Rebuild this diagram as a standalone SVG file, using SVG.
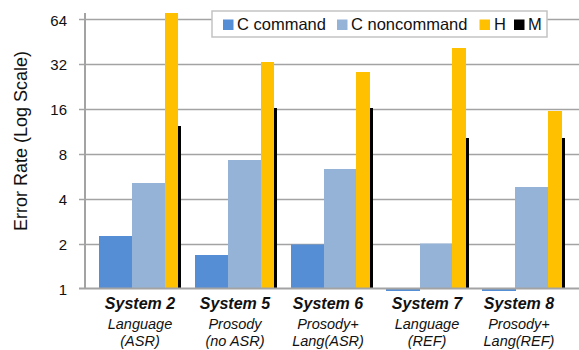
<svg xmlns="http://www.w3.org/2000/svg" width="579" height="350" viewBox="0 0 579 350">
<style>
.grid{stroke:#a3a3a3;stroke-width:1.6;fill:none}
.axis{stroke:#a3a3a3;stroke-width:2;fill:none}
.tick{font-family:"Liberation Sans",Arial,sans-serif;font-size:15px;fill:#111;text-anchor:end}
.ytitle{font-family:"Liberation Sans",Arial,sans-serif;font-size:18px;fill:#111;text-anchor:middle}
.leg{font-family:"Liberation Sans",Arial,sans-serif;font-size:16.5px;fill:#111}
.cat{font-family:"Liberation Sans",Arial,sans-serif;font-size:16px;font-weight:bold;font-style:italic;fill:#111;text-anchor:middle}
.sub{font-family:"Liberation Sans",Arial,sans-serif;font-size:14.5px;font-style:italic;fill:#111;text-anchor:middle}
.cc{fill:#558ed5}
.cn{fill:#95b3d7}
.h{fill:#ffc000}
.m{fill:#000}
</style>
<rect width="579" height="350" fill="#fff"/>
<g id="gridlines">
<line class="grid" x1="79" y1="19.5" x2="579" y2="19.5"/>
<line class="grid" x1="79" y1="64.5" x2="579" y2="64.5"/>
<line class="grid" x1="79" y1="109.5" x2="579" y2="109.5"/>
<line class="grid" x1="79" y1="154.5" x2="579" y2="154.5"/>
<line class="grid" x1="79" y1="199.5" x2="579" y2="199.5"/>
<line class="grid" x1="79" y1="244.5" x2="579" y2="244.5"/>
</g>
<g id="ticklabels">
<text class="tick" x="67" y="25.5">64</text>
<text class="tick" x="67" y="70">32</text>
<text class="tick" x="67" y="115">16</text>
<text class="tick" x="67" y="159.5">8</text>
<text class="tick" x="67" y="204.5">4</text>
<text class="tick" x="67" y="249.5">2</text>
<text class="tick" x="67" y="294.5">1</text>
</g>
<text class="ytitle" transform="translate(26.5,141) rotate(-90)">Error Rate (Log Scale)</text>
<g id="system2">
<rect class="cc" x="99" y="236" width="33" height="53"/>
<rect class="cn" x="132" y="183" width="33" height="106"/>
<rect class="h" x="165" y="13" width="13" height="276"/>
<rect class="m" x="178" y="126" width="3" height="163"/>
</g>
<g id="system5">
<rect class="cc" x="195" y="255" width="33" height="34"/>
<rect class="cn" x="228" y="160" width="33" height="129"/>
<rect class="h" x="261" y="62" width="13" height="227"/>
<rect class="m" x="274" y="108" width="3" height="181"/>
</g>
<g id="system6">
<rect class="cc" x="291" y="244.5" width="33" height="44.5"/>
<rect class="cn" x="324" y="169" width="32" height="120"/>
<rect class="h" x="356" y="72" width="14" height="217"/>
<rect class="m" x="370" y="108" width="3" height="181"/>
</g>
<g id="system7">
<rect class="cc" x="386" y="289" width="34" height="2"/>
<rect class="cn" x="420" y="243.5" width="32" height="45.5"/>
<rect class="h" x="452" y="48" width="14" height="241"/>
<rect class="m" x="466" y="138" width="3" height="151"/>
</g>
<g id="system8">
<rect class="cc" x="482" y="289" width="34" height="2"/>
<rect class="cn" x="515" y="187" width="33" height="102"/>
<rect class="h" x="548" y="111" width="14" height="178"/>
<rect class="m" x="562" y="138" width="3" height="151"/>
</g>
<g id="axes">
<line class="axis" x1="85" y1="13" x2="85" y2="289"/>
<line class="axis" x1="79" y1="288.5" x2="579" y2="288.5"/>
</g>
<g id="legend">
<rect x="212" y="11" width="335" height="26" fill="#fff" stroke="#c3c3c3" stroke-width="1.5"/>
<rect class="cc" x="223" y="19.5" width="10.5" height="10.5"/>
<text class="leg" x="237" y="30">C command</text>
<rect class="cn" x="337" y="19.5" width="10.5" height="10.5"/>
<text class="leg" x="351" y="30">C noncommand</text>
<rect class="h" x="479.5" y="19.5" width="10.5" height="10.5"/>
<text class="leg" x="494" y="30">H</text>
<rect class="m" x="514" y="19.5" width="10.5" height="10.5"/>
<text class="leg" x="528" y="30">M</text>
</g>
<g id="categories">
<text class="cat" x="140" y="309">System 2</text>
<text class="sub" x="140" y="329">Language</text>
<text class="sub" x="140" y="346">(ASR)</text>
<text class="cat" x="235" y="309">System 5</text>
<text class="sub" x="235" y="329">Prosody</text>
<text class="sub" x="235" y="346">(no ASR)</text>
<text class="cat" x="328" y="309">System 6</text>
<text class="sub" x="328" y="329">Prosody+</text>
<text class="sub" x="328" y="346">Lang(ASR)</text>
<text class="cat" x="427" y="309">System 7</text>
<text class="sub" x="427" y="329">Language</text>
<text class="sub" x="427" y="346">(REF)</text>
<text class="cat" x="519" y="309">System 8</text>
<text class="sub" x="519" y="329">Prosody+</text>
<text class="sub" x="519" y="346">Lang(REF)</text>
</g>
</svg>
